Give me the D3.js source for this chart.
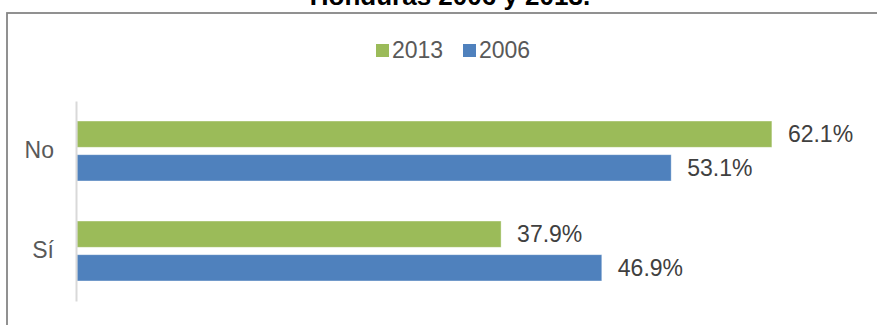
<!DOCTYPE html>
<html>
<head>
<meta charset="utf-8">
<script src="https://cdn.jsdelivr.net/npm/d3@7"></script>
<style>
  body { margin: 0; background: #fff; }
  text { font-family: "Liberation Sans", Arial, sans-serif; }
</style>
</head>
<body>
<svg id="chart"></svg>
<script>
// datos
var categories = ["No", "Sí"]
var seriesNames = ["2013", "2006"]
var values2013 = [62.1, 37.9]
var values2006 = [53.1, 46.9]
var titleText = "Honduras 2006 y 2013."

var colors = {"2013": "#9BBB59", "2006": "#4F81BD"}
var width = 877, height = 325

var svg = d3.select("#chart")
    .attr("width", width)
    .attr("height", height)

// marco
svg.append("rect")
    .attr("x", 7).attr("y", 13)
    .attr("width", 900).attr("height", 330)
    .attr("fill", "none")
    .attr("stroke", "#868686")
    .attr("stroke-width", 1.8)

// titulo (cortado arriba)
svg.append("text")
    .attr("x", 450).attr("y", 5)
    .attr("text-anchor", "middle")
    .style("font-size", "26px")
    .style("font-weight", "bold")
    .attr("fill", "#000")
    .text(titleText)

var xScale = d3.scaleLinear()
    .domain([0, 70])
    .range([77, 77 + 70 * 11.19])

var yScale = d3.scaleBand()
    .domain(categories)
    .range([101, 301])
    .paddingInner(0.4)
    .paddingOuter(0.2)

var ySub = d3.scaleBand()
    .domain(seriesNames)
    .range([0, yScale.bandwidth()])
    .paddingInner(0.22)

// tabla para las barras
var rows = []
categories.forEach(function(c, i) {
    rows.push({cat: c, serie: "2013", v: values2013[i]})
    rows.push({cat: c, serie: "2006", v: values2006[i]})
})

svg.selectAll(".bar")
    .data(rows)
    .enter()
    .append("rect")
    .attr("class", "bar")
    .attr("x", xScale(0))
    .attr("y", d => yScale(d.cat) + ySub(d.serie))
    .attr("width", d => xScale(d.v) - xScale(0))
    .attr("height", ySub.bandwidth())
    .attr("fill", d => colors[d.serie])
    .attr("stroke", "#fff")
    .attr("stroke-opacity", 0.5)
    .attr("stroke-width", 0.8)

// etiquetas de valores
svg.selectAll(".label")
    .data(rows)
    .enter()
    .append("text")
    .attr("class", "label")
    .attr("x", d => xScale(d.v) + 16)
    .attr("y", d => yScale(d.cat) + ySub(d.serie) + ySub.bandwidth() / 2)
    .attr("dy", "0.36em")
    .style("font-size", "23px")
    .attr("fill", "#404040")
    .text(d => d.v.toFixed(1) + "%")

// eje vertical
var yAxis = d3.axisLeft(yScale).tickSize(0).tickPadding(22)
var gy = svg.append("g")
    .attr("transform", `translate(${xScale(0) - 1}, 0)`)
    .call(yAxis)
gy.select(".domain").attr("stroke", "#d9d9d9").attr("stroke-width", 2)
gy.selectAll("text")
    .style("font-size", "23px")
    .style("font-family", "Liberation Sans, Arial, sans-serif")
    .attr("fill", "#595959")

// leyenda
var legend = svg.append("g")
var legendX = [376, 463]
seriesNames.forEach(function(s, i) {
    legend.append("rect")
        .attr("x", legendX[i]).attr("y", 44)
        .attr("width", 13).attr("height", 13)
        .attr("fill", colors[s])
    legend.append("text")
        .attr("x", legendX[i] + 16).attr("y", 58)
        .style("font-size", "23px")
        .attr("fill", "#595959")
        .text(s)
})
</script>
</body>
</html>
